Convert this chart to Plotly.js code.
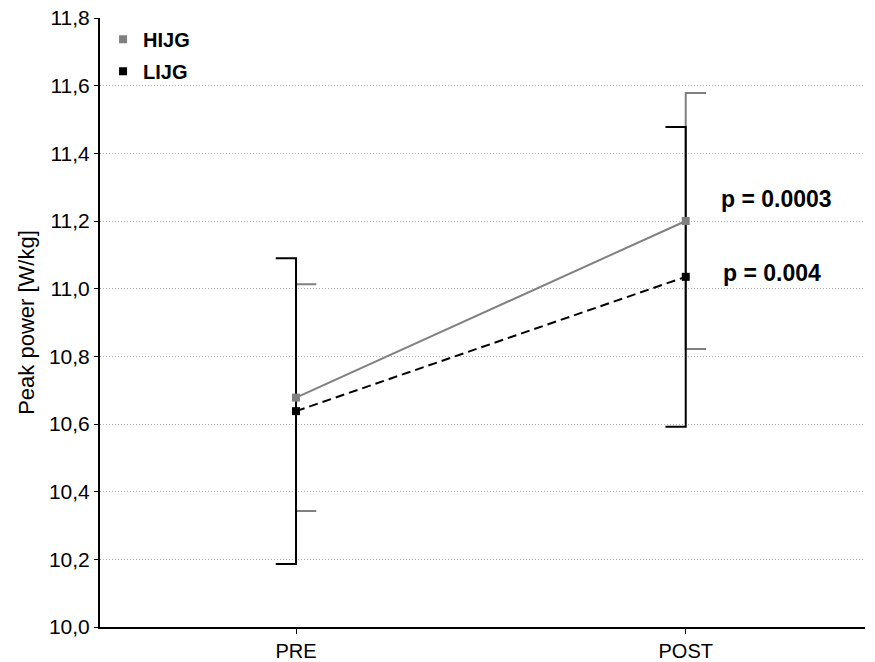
<!DOCTYPE html>
<html><head><meta charset="utf-8">
<script src="https://cdn.plot.ly/plotly-3.0.1.min.js"></script>
<style>html,body{margin:0;padding:0;background:#fff}</style>
</head><body>
<div id="chart" style="width:875px;height:662px"></div>
<script>
const categories = ["PRE", "POST"];
const groups = ["HIJG", "LIJG"];
const hijgMean = [10.678, 11.200];
const hijgSD = [0.335, 0.378];
const lijgMean = [10.638, 11.035];
const lijgSD = [0.452, 0.443];
const pLabels = ["p = 0.0003", "p = 0.004"];

const xpos = categories.map((c, i) => i);
const capW = 0.052;

function whiskers(mean, sd, dir, color) {
  const traces = [];
  mean.forEach((m, i) => {
    const x0 = xpos[i];
    const xc = x0 + dir * capW;
    traces.push({
      x: [xc, x0, x0, xc],
      y: [m + sd[i], m + sd[i], m - sd[i], m - sd[i]],
      mode: 'lines', type: 'scatter', showlegend: false, hoverinfo: 'skip',
      line: {color: color, width: 2}
    });
  });
  return traces;
}

const gray = '#808080';
const traces = [];
traces.push(...whiskers(hijgMean, hijgSD, 1, gray));
traces.push(...whiskers(lijgMean, lijgSD, -1, '#000'));
traces.push({
  x: xpos, y: hijgMean, mode: 'lines+markers', type: 'scatter', showlegend: false,
  line: {color: gray, width: 2}, marker: {symbol: 'square', size: 8, color: gray}
});
traces.push({
  x: xpos, y: lijgMean, mode: 'lines+markers', type: 'scatter', showlegend: false,
  line: {color: '#000', width: 2, dash: '9px,5px'}, marker: {symbol: 'square', size: 8, color: '#000'}
});
// legend entries
traces.push({x: [null], y: [null], mode: 'markers', type: 'scatter', name: groups[0], legendgroup: 'a',
  marker: {symbol: 'square', size: 8, color: gray}});
traces.push({x: [null], y: [null], mode: 'markers', type: 'scatter', name: groups[1], legendgroup: 'b',
  marker: {symbol: 'square', size: 8, color: '#000'}});

const layout = {
  width: 875, height: 662,
  margin: {l: 100, r: 10, t: 18, b: 35},
  paper_bgcolor: '#fff', plot_bgcolor: '#fff',
  font: {family: 'Arial, "Liberation Sans", sans-serif', color: '#000'},
  xaxis: {
    range: [-0.503, 1.46], tickvals: xpos, ticktext: categories,
    showgrid: false, zeroline: false, showline: true, linecolor: '#000', linewidth: 2,
    ticks: 'outside', ticklen: 5, tickwidth: 1, tickcolor: '#000',
    tickfont: {size: 20}
  },
  yaxis: {
    range: [10.0, 11.8], tickvals: [10.0,10.2,10.4,10.6,10.8,11.0,11.2,11.4,11.6,11.8],
    ticktext: ['10,0','10,2','10,4','10,6','10,8','11,0','11,2','11,4','11,6','11,8'],
    showgrid: true, gridcolor: '#b0b0b0', griddash: '1px,2px', gridwidth: 1,
    zeroline: false, showline: true, linecolor: '#000', linewidth: 2,
    ticks: 'outside', ticklen: 4, tickcolor: '#000', tickfont: {size: 21},
    title: {text: 'Peak power [W/kg]', font: {size: 22}, standoff: 8}
  },
  legend: {x: 0.004, y: 0.997, xanchor: 'left', yanchor: 'top', bgcolor: 'rgba(0,0,0,0)',
    font: {size: 20, weight: 'bold'}, itemwidth: 30, tracegroupgap: 3},
  annotations: [
    {x: 1, y: hijgMean[1], xref: 'x', yref: 'y', text: '<b>' + pLabels[0] + '</b>', showarrow: false,
     xanchor: 'left', xshift: 33, yshift: 22, font: {size: 23}},
    {x: 1, y: lijgMean[1], xref: 'x', yref: 'y', text: '<b>' + pLabels[1] + '</b>', showarrow: false,
     xanchor: 'left', xshift: 35, yshift: 4, font: {size: 23}}
  ],
  showlegend: true
};
Plotly.newPlot('chart', traces, layout, {displayModeBar: false, staticPlot: true});
</script>
</body></html>
